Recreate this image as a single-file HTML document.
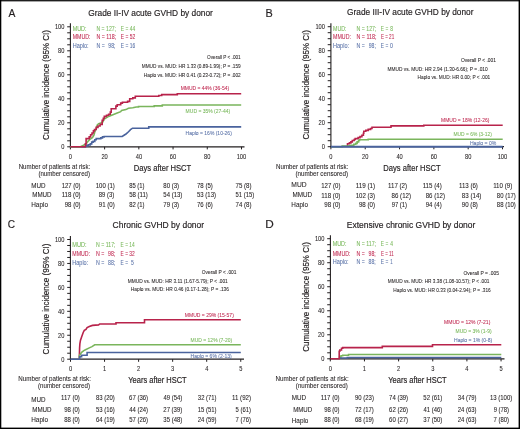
<!DOCTYPE html>
<html><head><meta charset="utf-8"><style>
html,body{margin:0;padding:0;background:#fff;}
body{width:520px;height:429px;overflow:hidden;position:relative;}
svg{position:absolute;left:0;top:0;display:block;will-change:transform;}
text{font-family:"Liberation Sans",sans-serif;white-space:pre;}
</style></head><body>
<svg width="520" height="429" viewBox="0 0 520 429">
<rect x="0" y="0" width="520" height="429" fill="#fff"/>
<rect x="0" y="0" width="520" height="1.4" fill="#1e1e1e"/>
<rect x="0" y="0" width="1.3" height="429" fill="#000"/>
<rect x="518.6" y="0" width="1.4" height="429" fill="#000"/>
<rect x="0" y="427.6" width="520" height="1.4" fill="#000"/>
<text x="8.45" y="17.00" font-size="11.6" fill="#231f20" stroke="#231f20" stroke-width="0.18" textLength="6.87" lengthAdjust="spacingAndGlyphs">A</text>
<text x="88.28" y="16.30" font-size="9.6" fill="#231f20" stroke="#231f20" stroke-width="0.18" textLength="124.55" lengthAdjust="spacingAndGlyphs">Grade II-IV acute GVHD by donor</text>
<text transform="translate(49.40,139.90) rotate(-90)" x="0" y="0" font-size="8.9" fill="#231f20" stroke="#231f20" stroke-width="0.18" textLength="109.81" lengthAdjust="spacingAndGlyphs">Cumulative incidence (95% CI)</text>
<line x1="70.40" y1="23.30" x2="70.40" y2="147.40" stroke="#231f20" stroke-width="1.1"/>
<line x1="67.20" y1="146.80" x2="70.40" y2="146.80" stroke="#231f20" stroke-width="1.0"/>
<line x1="67.20" y1="140.80" x2="70.40" y2="140.80" stroke="#231f20" stroke-width="1.0"/>
<line x1="67.20" y1="134.80" x2="70.40" y2="134.80" stroke="#231f20" stroke-width="1.0"/>
<line x1="67.20" y1="128.80" x2="70.40" y2="128.80" stroke="#231f20" stroke-width="1.0"/>
<line x1="67.20" y1="122.80" x2="70.40" y2="122.80" stroke="#231f20" stroke-width="1.0"/>
<line x1="67.20" y1="116.80" x2="70.40" y2="116.80" stroke="#231f20" stroke-width="1.0"/>
<line x1="67.20" y1="110.80" x2="70.40" y2="110.80" stroke="#231f20" stroke-width="1.0"/>
<line x1="67.20" y1="104.80" x2="70.40" y2="104.80" stroke="#231f20" stroke-width="1.0"/>
<line x1="67.20" y1="98.80" x2="70.40" y2="98.80" stroke="#231f20" stroke-width="1.0"/>
<line x1="67.20" y1="92.80" x2="70.40" y2="92.80" stroke="#231f20" stroke-width="1.0"/>
<line x1="67.20" y1="86.80" x2="70.40" y2="86.80" stroke="#231f20" stroke-width="1.0"/>
<line x1="67.20" y1="80.80" x2="70.40" y2="80.80" stroke="#231f20" stroke-width="1.0"/>
<line x1="67.20" y1="74.80" x2="70.40" y2="74.80" stroke="#231f20" stroke-width="1.0"/>
<line x1="67.20" y1="68.80" x2="70.40" y2="68.80" stroke="#231f20" stroke-width="1.0"/>
<line x1="67.20" y1="62.80" x2="70.40" y2="62.80" stroke="#231f20" stroke-width="1.0"/>
<line x1="67.20" y1="56.80" x2="70.40" y2="56.80" stroke="#231f20" stroke-width="1.0"/>
<line x1="67.20" y1="50.80" x2="70.40" y2="50.80" stroke="#231f20" stroke-width="1.0"/>
<line x1="67.20" y1="44.80" x2="70.40" y2="44.80" stroke="#231f20" stroke-width="1.0"/>
<line x1="67.20" y1="38.80" x2="70.40" y2="38.80" stroke="#231f20" stroke-width="1.0"/>
<line x1="67.20" y1="32.80" x2="70.40" y2="32.80" stroke="#231f20" stroke-width="1.0"/>
<line x1="67.20" y1="26.80" x2="70.40" y2="26.80" stroke="#231f20" stroke-width="1.0"/>
<text x="61.23" y="149.30" font-size="6.8" fill="#231f20" stroke="#231f20" stroke-width="0.07" textLength="3.18" lengthAdjust="spacingAndGlyphs">0</text>
<text x="58.06" y="125.30" font-size="6.8" fill="#231f20" stroke="#231f20" stroke-width="0.07" textLength="6.35" lengthAdjust="spacingAndGlyphs">20</text>
<text x="58.06" y="101.30" font-size="6.8" fill="#231f20" stroke="#231f20" stroke-width="0.07" textLength="6.35" lengthAdjust="spacingAndGlyphs">40</text>
<text x="58.06" y="77.30" font-size="6.8" fill="#231f20" stroke="#231f20" stroke-width="0.07" textLength="6.35" lengthAdjust="spacingAndGlyphs">60</text>
<text x="58.06" y="53.30" font-size="6.8" fill="#231f20" stroke="#231f20" stroke-width="0.07" textLength="6.35" lengthAdjust="spacingAndGlyphs">80</text>
<text x="54.89" y="29.30" font-size="6.8" fill="#231f20" stroke="#231f20" stroke-width="0.07" textLength="9.53" lengthAdjust="spacingAndGlyphs">100</text>
<line x1="69.90" y1="146.80" x2="244.50" y2="146.80" stroke="#231f20" stroke-width="1.3"/>
<line x1="70.40" y1="146.80" x2="70.40" y2="149.40" stroke="#231f20" stroke-width="1.0"/>
<text x="68.80" y="158.70" font-size="6.8" fill="#231f20" stroke="#231f20" stroke-width="0.07" textLength="3.18" lengthAdjust="spacingAndGlyphs">0</text>
<line x1="104.62" y1="146.80" x2="104.62" y2="149.40" stroke="#231f20" stroke-width="1.0"/>
<text x="101.41" y="158.70" font-size="6.8" fill="#231f20" stroke="#231f20" stroke-width="0.07" textLength="6.35" lengthAdjust="spacingAndGlyphs">20</text>
<line x1="138.84" y1="146.80" x2="138.84" y2="149.40" stroke="#231f20" stroke-width="1.0"/>
<text x="135.71" y="158.70" font-size="6.8" fill="#231f20" stroke="#231f20" stroke-width="0.07" textLength="6.35" lengthAdjust="spacingAndGlyphs">40</text>
<line x1="173.06" y1="146.80" x2="173.06" y2="149.40" stroke="#231f20" stroke-width="1.0"/>
<text x="169.85" y="158.70" font-size="6.8" fill="#231f20" stroke="#231f20" stroke-width="0.07" textLength="6.35" lengthAdjust="spacingAndGlyphs">60</text>
<line x1="207.28" y1="146.80" x2="207.28" y2="149.40" stroke="#231f20" stroke-width="1.0"/>
<text x="204.08" y="158.70" font-size="6.8" fill="#231f20" stroke="#231f20" stroke-width="0.07" textLength="6.35" lengthAdjust="spacingAndGlyphs">80</text>
<line x1="241.50" y1="146.80" x2="241.50" y2="149.40" stroke="#231f20" stroke-width="1.0"/>
<text x="236.63" y="158.70" font-size="6.8" fill="#231f20" stroke="#231f20" stroke-width="0.07" textLength="9.53" lengthAdjust="spacingAndGlyphs">100</text>
<text x="133.79" y="170.60" font-size="9.0" fill="#231f20" stroke="#231f20" stroke-width="0.18" textLength="57.48" lengthAdjust="spacingAndGlyphs">Days after HSCT</text>
<text x="72.67" y="30.85" font-size="6.3" fill="#78b85a" stroke="#78b85a" stroke-width="0.07" textLength="13.85" lengthAdjust="spacingAndGlyphs">MUD:</text>
<text x="96.49" y="30.85" font-size="6.3" fill="#78b85a" stroke="#78b85a" stroke-width="0.07" textLength="19.56" lengthAdjust="spacingAndGlyphs">N = 127;</text>
<text x="120.86" y="30.85" font-size="6.3" fill="#78b85a" stroke="#78b85a" stroke-width="0.07" textLength="14.28" lengthAdjust="spacingAndGlyphs">E = 44</text>
<text x="72.68" y="39.20" font-size="6.3" fill="#c02a52" stroke="#c02a52" stroke-width="0.07" textLength="17.81" lengthAdjust="spacingAndGlyphs">MMUD:</text>
<text x="96.48" y="39.20" font-size="6.3" fill="#c02a52" stroke="#c02a52" stroke-width="0.07" textLength="19.59" lengthAdjust="spacingAndGlyphs">N = 118;</text>
<text x="120.86" y="39.20" font-size="6.3" fill="#c02a52" stroke="#c02a52" stroke-width="0.07" textLength="14.39" lengthAdjust="spacingAndGlyphs">E = 52</text>
<text x="72.66" y="48.35" font-size="6.3" fill="#5a72a8" stroke="#5a72a8" stroke-width="0.07" textLength="15.94" lengthAdjust="spacingAndGlyphs">Haplo:</text>
<text x="96.48" y="48.35" font-size="6.3" fill="#5a72a8" stroke="#5a72a8" stroke-width="0.07" textLength="8.27" lengthAdjust="spacingAndGlyphs">N =</text>
<text x="108.27" y="48.35" font-size="6.3" fill="#5a72a8" stroke="#5a72a8" stroke-width="0.07" textLength="7.20" lengthAdjust="spacingAndGlyphs">98;</text>
<text x="120.86" y="48.35" font-size="6.3" fill="#5a72a8" stroke="#5a72a8" stroke-width="0.07" textLength="14.33" lengthAdjust="spacingAndGlyphs">E = 16</text>
<text x="207.09" y="59.05" font-size="5.6" fill="#231f20" stroke="#231f20" stroke-width="0.07" textLength="33.62" lengthAdjust="spacingAndGlyphs">Overall P &lt; .001</text>
<text x="141.72" y="67.65" font-size="5.6" fill="#231f20" stroke="#231f20" stroke-width="0.07" textLength="98.99" lengthAdjust="spacingAndGlyphs">MMUD vs. MUD: HR 1.33 (0.89-1.99); P = .159</text>
<text x="143.82" y="76.75" font-size="5.6" fill="#231f20" stroke="#231f20" stroke-width="0.07" textLength="96.93" lengthAdjust="spacingAndGlyphs">Haplo vs. MUD: HR 0.41 (0.23-0.72); P = .002</text>
<path d="M70.4 146.8 H85.4 V146.3 H86.8 V145.6 H88.2 V144.9 H90.3 V143.9 H91.7 V142.1 H93.1 V141.4 H94.8 V139.7 H96.2 V138.6 H100.8 V137.9 H102.5 V136.9 H104.2 V136.5 H122.2 L124.4 135 L126 134 L127.5 132.7 L129 131.2 L130.5 129.7 L132.5 128.2 H148.75 V126.9 H241.2" fill="none" stroke="#4a639d" stroke-width="1.6" stroke-linejoin="miter" stroke-linecap="butt"/>
<path d="M70.40 146.80 L80.50 146.80 L81.50 146.20 L83.00 145.60 L84.00 144.90 L86.10 143.90 L88.20 141.10 L90.30 139.00 L92.40 137.60 L93.80 135.50 L94.50 133.00 L95.20 130.60 L96.20 128.50 L97.30 125.00 L98.70 123.60 L100.80 122.90 L102.90 121.80 L104.30 119.00 L108.60 116.40 L112.90 114.70 L117.20 113.00 L120.70 111.70 L121.60 110.40 L125.90 109.60 L128.40 108.30 L132.80 107.80 L136.20 107.00 H138.5 V106.5 H154.2 V105.9 H162.3 V105.05 H241.2" fill="none" stroke="#7ab55c" stroke-width="1.6" stroke-linejoin="miter" stroke-linecap="butt"/>
<path d="M70.4 146.8 H85.4 V143.9 H86.1 V138.6 H89.2 V136.9 H90.6 V134.8 H92 V133 H93.4 V130.9 H94.5 V129.5 H96.2 V127.4 H98 V126 H100.1 V124.4 H102.2 V120.3 H103.3 V118.3 H104.3 V116.4 H106.5 V115.3 H108.6 V114.3 H110.3 V112.1 H111.2 V108.7 H115.9 V106.1 H117.2 V104.8 H120.7 V103.1 H122.4 V102.2 H127.6 V101.4 H129.7 V98.8 H132.8 V97.9 H135.3 V96.2 H158.8 V95.5 H161.7 V94.6 H177.3 V93.7 H241.2" fill="none" stroke="#b8234b" stroke-width="1.6" stroke-linejoin="miter" stroke-linecap="butt"/>
<text x="180.70" y="89.95" font-size="5.5" fill="#c02a52" stroke="#c02a52" stroke-width="0.07" textLength="48.41" lengthAdjust="spacingAndGlyphs">MMUD = 44% (36-54)</text>
<text x="185.60" y="112.55" font-size="5.5" fill="#78b85a" stroke="#78b85a" stroke-width="0.07" textLength="44.63" lengthAdjust="spacingAndGlyphs">MUD = 35% (27-44)</text>
<text x="185.60" y="134.95" font-size="5.5" fill="#5a72a8" stroke="#5a72a8" stroke-width="0.07" textLength="46.20" lengthAdjust="spacingAndGlyphs">Haplo = 16% (10-26)</text>
<text x="18.71" y="168.70" font-size="6.3" fill="#231f20" stroke="#231f20" stroke-width="0.07" textLength="71.45" lengthAdjust="spacingAndGlyphs">Number of patients at risk:</text>
<text x="38.43" y="175.90" font-size="6.3" fill="#231f20" stroke="#231f20" stroke-width="0.07" textLength="51.55" lengthAdjust="spacingAndGlyphs">(number censored)</text>
<text x="31.20" y="187.60" font-size="6.3" fill="#231f20" stroke="#231f20" stroke-width="0.07" textLength="14.30" lengthAdjust="spacingAndGlyphs">MUD</text>
<text x="32.20" y="197.20" font-size="6.3" fill="#231f20" stroke="#231f20" stroke-width="0.07" textLength="19.38" lengthAdjust="spacingAndGlyphs">MMUD</text>
<text x="31.19" y="206.80" font-size="6.3" fill="#231f20" stroke="#231f20" stroke-width="0.07" textLength="16.79" lengthAdjust="spacingAndGlyphs">Haplo</text>
<text x="61.65" y="187.50" font-size="6.3" fill="#231f20" stroke="#231f20" stroke-width="0.07" textLength="18.93" lengthAdjust="spacingAndGlyphs">127 (0)</text>
<text x="95.75" y="187.50" font-size="6.3" fill="#231f20" stroke="#231f20" stroke-width="0.07" textLength="19.03" lengthAdjust="spacingAndGlyphs">100 (1)</text>
<text x="129.13" y="187.50" font-size="6.3" fill="#231f20" stroke="#231f20" stroke-width="0.07" textLength="15.43" lengthAdjust="spacingAndGlyphs">85 (1)</text>
<text x="163.33" y="187.50" font-size="6.3" fill="#231f20" stroke="#231f20" stroke-width="0.07" textLength="15.75" lengthAdjust="spacingAndGlyphs">80 (3)</text>
<text x="197.00" y="187.50" font-size="6.3" fill="#231f20" stroke="#231f20" stroke-width="0.07" textLength="15.78" lengthAdjust="spacingAndGlyphs">78 (5)</text>
<text x="235.49" y="187.50" font-size="6.3" fill="#231f20" stroke="#231f20" stroke-width="0.07" textLength="15.99" lengthAdjust="spacingAndGlyphs">75 (8)</text>
<text x="61.64" y="197.10" font-size="6.3" fill="#231f20" stroke="#231f20" stroke-width="0.07" textLength="18.95" lengthAdjust="spacingAndGlyphs">118 (0)</text>
<text x="98.73" y="197.10" font-size="6.3" fill="#231f20" stroke="#231f20" stroke-width="0.07" textLength="15.43" lengthAdjust="spacingAndGlyphs">89 (3)</text>
<text x="129.16" y="197.10" font-size="6.3" fill="#231f20" stroke="#231f20" stroke-width="0.07" textLength="18.73" lengthAdjust="spacingAndGlyphs">58 (11)</text>
<text x="163.36" y="197.10" font-size="6.3" fill="#231f20" stroke="#231f20" stroke-width="0.07" textLength="18.92" lengthAdjust="spacingAndGlyphs">54 (13)</text>
<text x="197.06" y="197.10" font-size="6.3" fill="#231f20" stroke="#231f20" stroke-width="0.07" textLength="18.92" lengthAdjust="spacingAndGlyphs">53 (13)</text>
<text x="235.57" y="197.10" font-size="6.3" fill="#231f20" stroke="#231f20" stroke-width="0.07" textLength="18.61" lengthAdjust="spacingAndGlyphs">51 (15)</text>
<text x="64.73" y="206.70" font-size="6.3" fill="#231f20" stroke="#231f20" stroke-width="0.07" textLength="15.85" lengthAdjust="spacingAndGlyphs">98 (0)</text>
<text x="98.72" y="206.70" font-size="6.3" fill="#231f20" stroke="#231f20" stroke-width="0.07" textLength="16.06" lengthAdjust="spacingAndGlyphs">91 (0)</text>
<text x="129.13" y="206.70" font-size="6.3" fill="#231f20" stroke="#231f20" stroke-width="0.07" textLength="15.43" lengthAdjust="spacingAndGlyphs">82 (1)</text>
<text x="163.30" y="206.70" font-size="6.3" fill="#231f20" stroke="#231f20" stroke-width="0.07" textLength="15.78" lengthAdjust="spacingAndGlyphs">79 (3)</text>
<text x="197.00" y="206.70" font-size="6.3" fill="#231f20" stroke="#231f20" stroke-width="0.07" textLength="15.78" lengthAdjust="spacingAndGlyphs">76 (6)</text>
<text x="235.49" y="206.70" font-size="6.3" fill="#231f20" stroke="#231f20" stroke-width="0.07" textLength="15.99" lengthAdjust="spacingAndGlyphs">74 (8)</text>
<text x="265.53" y="17.10" font-size="11.6" fill="#231f20" stroke="#231f20" stroke-width="0.18" textLength="7.23" lengthAdjust="spacingAndGlyphs">B</text>
<text x="347.09" y="15.00" font-size="9.6" fill="#231f20" stroke="#231f20" stroke-width="0.18" textLength="126.37" lengthAdjust="spacingAndGlyphs">Grade III-IV acute GVHD by donor</text>
<text transform="translate(309.00,139.60) rotate(-90)" x="0" y="0" font-size="8.9" fill="#231f20" stroke="#231f20" stroke-width="0.18" textLength="109.50" lengthAdjust="spacingAndGlyphs">Cumulative incidence (95% CI)</text>
<line x1="330.90" y1="23.30" x2="330.90" y2="147.30" stroke="#231f20" stroke-width="1.1"/>
<line x1="327.70" y1="146.70" x2="330.90" y2="146.70" stroke="#231f20" stroke-width="1.0"/>
<line x1="327.70" y1="140.70" x2="330.90" y2="140.70" stroke="#231f20" stroke-width="1.0"/>
<line x1="327.70" y1="134.70" x2="330.90" y2="134.70" stroke="#231f20" stroke-width="1.0"/>
<line x1="327.70" y1="128.70" x2="330.90" y2="128.70" stroke="#231f20" stroke-width="1.0"/>
<line x1="327.70" y1="122.70" x2="330.90" y2="122.70" stroke="#231f20" stroke-width="1.0"/>
<line x1="327.70" y1="116.70" x2="330.90" y2="116.70" stroke="#231f20" stroke-width="1.0"/>
<line x1="327.70" y1="110.70" x2="330.90" y2="110.70" stroke="#231f20" stroke-width="1.0"/>
<line x1="327.70" y1="104.70" x2="330.90" y2="104.70" stroke="#231f20" stroke-width="1.0"/>
<line x1="327.70" y1="98.70" x2="330.90" y2="98.70" stroke="#231f20" stroke-width="1.0"/>
<line x1="327.70" y1="92.70" x2="330.90" y2="92.70" stroke="#231f20" stroke-width="1.0"/>
<line x1="327.70" y1="86.70" x2="330.90" y2="86.70" stroke="#231f20" stroke-width="1.0"/>
<line x1="327.70" y1="80.70" x2="330.90" y2="80.70" stroke="#231f20" stroke-width="1.0"/>
<line x1="327.70" y1="74.70" x2="330.90" y2="74.70" stroke="#231f20" stroke-width="1.0"/>
<line x1="327.70" y1="68.70" x2="330.90" y2="68.70" stroke="#231f20" stroke-width="1.0"/>
<line x1="327.70" y1="62.70" x2="330.90" y2="62.70" stroke="#231f20" stroke-width="1.0"/>
<line x1="327.70" y1="56.70" x2="330.90" y2="56.70" stroke="#231f20" stroke-width="1.0"/>
<line x1="327.70" y1="50.70" x2="330.90" y2="50.70" stroke="#231f20" stroke-width="1.0"/>
<line x1="327.70" y1="44.70" x2="330.90" y2="44.70" stroke="#231f20" stroke-width="1.0"/>
<line x1="327.70" y1="38.70" x2="330.90" y2="38.70" stroke="#231f20" stroke-width="1.0"/>
<line x1="327.70" y1="32.70" x2="330.90" y2="32.70" stroke="#231f20" stroke-width="1.0"/>
<line x1="327.70" y1="26.70" x2="330.90" y2="26.70" stroke="#231f20" stroke-width="1.0"/>
<text x="321.73" y="149.20" font-size="6.8" fill="#231f20" stroke="#231f20" stroke-width="0.07" textLength="3.18" lengthAdjust="spacingAndGlyphs">0</text>
<text x="318.56" y="125.20" font-size="6.8" fill="#231f20" stroke="#231f20" stroke-width="0.07" textLength="6.35" lengthAdjust="spacingAndGlyphs">20</text>
<text x="318.56" y="101.20" font-size="6.8" fill="#231f20" stroke="#231f20" stroke-width="0.07" textLength="6.35" lengthAdjust="spacingAndGlyphs">40</text>
<text x="318.56" y="77.20" font-size="6.8" fill="#231f20" stroke="#231f20" stroke-width="0.07" textLength="6.35" lengthAdjust="spacingAndGlyphs">60</text>
<text x="318.56" y="53.20" font-size="6.8" fill="#231f20" stroke="#231f20" stroke-width="0.07" textLength="6.35" lengthAdjust="spacingAndGlyphs">80</text>
<text x="315.39" y="29.20" font-size="6.8" fill="#231f20" stroke="#231f20" stroke-width="0.07" textLength="9.53" lengthAdjust="spacingAndGlyphs">100</text>
<line x1="330.40" y1="146.70" x2="504.00" y2="146.70" stroke="#231f20" stroke-width="1.3"/>
<line x1="330.90" y1="146.70" x2="330.90" y2="149.30" stroke="#231f20" stroke-width="1.0"/>
<text x="329.30" y="158.60" font-size="6.8" fill="#231f20" stroke="#231f20" stroke-width="0.07" textLength="3.18" lengthAdjust="spacingAndGlyphs">0</text>
<line x1="365.22" y1="146.70" x2="365.22" y2="149.30" stroke="#231f20" stroke-width="1.0"/>
<text x="362.01" y="158.60" font-size="6.8" fill="#231f20" stroke="#231f20" stroke-width="0.07" textLength="6.35" lengthAdjust="spacingAndGlyphs">20</text>
<line x1="399.54" y1="146.70" x2="399.54" y2="149.30" stroke="#231f20" stroke-width="1.0"/>
<text x="396.41" y="158.60" font-size="6.8" fill="#231f20" stroke="#231f20" stroke-width="0.07" textLength="6.35" lengthAdjust="spacingAndGlyphs">40</text>
<line x1="433.86" y1="146.70" x2="433.86" y2="149.30" stroke="#231f20" stroke-width="1.0"/>
<text x="430.65" y="158.60" font-size="6.8" fill="#231f20" stroke="#231f20" stroke-width="0.07" textLength="6.35" lengthAdjust="spacingAndGlyphs">60</text>
<line x1="468.18" y1="146.70" x2="468.18" y2="149.30" stroke="#231f20" stroke-width="1.0"/>
<text x="464.98" y="158.60" font-size="6.8" fill="#231f20" stroke="#231f20" stroke-width="0.07" textLength="6.35" lengthAdjust="spacingAndGlyphs">80</text>
<line x1="502.50" y1="146.70" x2="502.50" y2="149.30" stroke="#231f20" stroke-width="1.0"/>
<text x="497.63" y="158.60" font-size="6.8" fill="#231f20" stroke="#231f20" stroke-width="0.07" textLength="9.53" lengthAdjust="spacingAndGlyphs">100</text>
<text x="383.29" y="171.20" font-size="9.0" fill="#231f20" stroke="#231f20" stroke-width="0.18" textLength="57.48" lengthAdjust="spacingAndGlyphs">Days after HSCT</text>
<text x="333.08" y="30.50" font-size="6.3" fill="#78b85a" stroke="#78b85a" stroke-width="0.07" textLength="13.42" lengthAdjust="spacingAndGlyphs">MUD:</text>
<text x="356.48" y="30.50" font-size="6.3" fill="#78b85a" stroke="#78b85a" stroke-width="0.07" textLength="19.98" lengthAdjust="spacingAndGlyphs">N = 127;</text>
<text x="380.86" y="30.50" font-size="6.3" fill="#78b85a" stroke="#78b85a" stroke-width="0.07" textLength="7.37" lengthAdjust="spacingAndGlyphs">E =</text>
<text x="390.28" y="30.50" font-size="6.3" fill="#78b85a" stroke="#78b85a" stroke-width="0.07" textLength="2.72" lengthAdjust="spacingAndGlyphs">8</text>
<text x="333.08" y="39.00" font-size="6.3" fill="#c02a52" stroke="#c02a52" stroke-width="0.07" textLength="17.81" lengthAdjust="spacingAndGlyphs">MMUD:</text>
<text x="356.47" y="39.00" font-size="6.3" fill="#c02a52" stroke="#c02a52" stroke-width="0.07" textLength="20.00" lengthAdjust="spacingAndGlyphs">N = 118;</text>
<text x="380.89" y="39.00" font-size="6.3" fill="#c02a52" stroke="#c02a52" stroke-width="0.07" textLength="13.32" lengthAdjust="spacingAndGlyphs">E = 21</text>
<text x="333.06" y="48.35" font-size="6.3" fill="#5a72a8" stroke="#5a72a8" stroke-width="0.07" textLength="15.94" lengthAdjust="spacingAndGlyphs">Haplo:</text>
<text x="356.48" y="48.35" font-size="6.3" fill="#5a72a8" stroke="#5a72a8" stroke-width="0.07" textLength="8.27" lengthAdjust="spacingAndGlyphs">N =</text>
<text x="368.77" y="48.35" font-size="6.3" fill="#5a72a8" stroke="#5a72a8" stroke-width="0.07" textLength="7.09" lengthAdjust="spacingAndGlyphs">98;</text>
<text x="380.86" y="48.35" font-size="6.3" fill="#5a72a8" stroke="#5a72a8" stroke-width="0.07" textLength="7.37" lengthAdjust="spacingAndGlyphs">E =</text>
<text x="390.09" y="48.35" font-size="6.3" fill="#5a72a8" stroke="#5a72a8" stroke-width="0.07" textLength="2.90" lengthAdjust="spacingAndGlyphs">0</text>
<text x="461.03" y="61.75" font-size="5.6" fill="#231f20" stroke="#231f20" stroke-width="0.07" textLength="34.94" lengthAdjust="spacingAndGlyphs">Overall P &lt; .001</text>
<text x="387.62" y="70.50" font-size="5.6" fill="#231f20" stroke="#231f20" stroke-width="0.07" textLength="100.05" lengthAdjust="spacingAndGlyphs">MMUD vs. MUD: HR 2.94 (1.30-6.66); P = .010</text>
<text x="417.62" y="78.75" font-size="5.6" fill="#231f20" stroke="#231f20" stroke-width="0.07" textLength="72.61" lengthAdjust="spacingAndGlyphs">Haplo vs. MUD: HR 0.00; P &lt; .001</text>
<path d="M347.50 146.70 H347.50 V143.80 H349.40 V142.90 H350.90 V141.90 H352.30 V140.50 H354.20 V139.50 H355.20 V138.60 H358.10 V137.60 H360.00 V136.60 H361.90 V135.20 H363.40 V133.30 H363.80 V131.30 H365.80 V130.40 H368.20 V129.40 H370.60 V128.50 H372.00 V127.20 H391.00 V125.90 H423.80 V125.20 H502.70 V125.20" fill="none" stroke="#b8234b" stroke-width="1.6" stroke-linejoin="miter" stroke-linecap="butt"/>
<path d="M331.00 146.70 H342.20 V146.00 H349.40 V145.60 H351.30 V145.30 H353.80 V144.30 H355.70 V143.40 H357.10 V141.90 H358.60 V140.50 H359.50 V139.80 H368.20 V139.30 H502.70 V139.30" fill="none" stroke="#7ab55c" stroke-width="1.6" stroke-linejoin="miter" stroke-linecap="butt"/>
<path d="M330.9 146.7 H502.7" fill="none" stroke="#4a639d" stroke-width="1.9" stroke-linejoin="miter" stroke-linecap="butt"/>
<text x="441.10" y="121.65" font-size="5.5" fill="#c02a52" stroke="#c02a52" stroke-width="0.07" textLength="48.31" lengthAdjust="spacingAndGlyphs">MMUD = 18% (12-26)</text>
<text x="453.41" y="136.05" font-size="5.5" fill="#78b85a" stroke="#78b85a" stroke-width="0.07" textLength="38.40" lengthAdjust="spacingAndGlyphs">MUD = 6% (3-12)</text>
<text x="469.89" y="145.45" font-size="5.5" fill="#5a72a8" stroke="#5a72a8" stroke-width="0.07" textLength="26.47" lengthAdjust="spacingAndGlyphs">Haplo = 0%</text>
<text x="276.00" y="168.80" font-size="6.3" fill="#231f20" stroke="#231f20" stroke-width="0.07" textLength="72.26" lengthAdjust="spacingAndGlyphs">Number of patients at risk:</text>
<text x="295.43" y="176.10" font-size="6.3" fill="#231f20" stroke="#231f20" stroke-width="0.07" textLength="52.67" lengthAdjust="spacingAndGlyphs">(number censored)</text>
<text x="291.36" y="187.30" font-size="6.3" fill="#231f20" stroke="#231f20" stroke-width="0.07" textLength="15.25" lengthAdjust="spacingAndGlyphs">MUD</text>
<text x="292.40" y="197.30" font-size="6.3" fill="#231f20" stroke="#231f20" stroke-width="0.07" textLength="19.59" lengthAdjust="spacingAndGlyphs">MMUD</text>
<text x="291.39" y="207.30" font-size="6.3" fill="#231f20" stroke="#231f20" stroke-width="0.07" textLength="16.58" lengthAdjust="spacingAndGlyphs">Haplo</text>
<text x="321.25" y="187.50" font-size="6.3" fill="#231f20" stroke="#231f20" stroke-width="0.07" textLength="19.14" lengthAdjust="spacingAndGlyphs">127 (0)</text>
<text x="355.73" y="187.50" font-size="6.3" fill="#231f20" stroke="#231f20" stroke-width="0.07" textLength="19.27" lengthAdjust="spacingAndGlyphs">119 (1)</text>
<text x="388.04" y="187.50" font-size="6.3" fill="#231f20" stroke="#231f20" stroke-width="0.07" textLength="19.06" lengthAdjust="spacingAndGlyphs">117 (2)</text>
<text x="422.64" y="187.50" font-size="6.3" fill="#231f20" stroke="#231f20" stroke-width="0.07" textLength="19.06" lengthAdjust="spacingAndGlyphs">115 (4)</text>
<text x="458.94" y="187.50" font-size="6.3" fill="#231f20" stroke="#231f20" stroke-width="0.07" textLength="18.95" lengthAdjust="spacingAndGlyphs">113 (6)</text>
<text x="493.14" y="187.50" font-size="6.3" fill="#231f20" stroke="#231f20" stroke-width="0.07" textLength="19.16" lengthAdjust="spacingAndGlyphs">110 (9)</text>
<text x="321.24" y="197.50" font-size="6.3" fill="#231f20" stroke="#231f20" stroke-width="0.07" textLength="19.16" lengthAdjust="spacingAndGlyphs">118 (0)</text>
<text x="355.74" y="197.50" font-size="6.3" fill="#231f20" stroke="#231f20" stroke-width="0.07" textLength="19.24" lengthAdjust="spacingAndGlyphs">102 (3)</text>
<text x="391.62" y="197.50" font-size="6.3" fill="#231f20" stroke="#231f20" stroke-width="0.07" textLength="19.36" lengthAdjust="spacingAndGlyphs">86 (12)</text>
<text x="425.73" y="197.50" font-size="6.3" fill="#231f20" stroke="#231f20" stroke-width="0.07" textLength="19.26" lengthAdjust="spacingAndGlyphs">86 (12)</text>
<text x="461.82" y="197.50" font-size="6.3" fill="#231f20" stroke="#231f20" stroke-width="0.07" textLength="19.57" lengthAdjust="spacingAndGlyphs">83 (14)</text>
<text x="496.83" y="197.50" font-size="6.3" fill="#231f20" stroke="#231f20" stroke-width="0.07" textLength="18.95" lengthAdjust="spacingAndGlyphs">80 (17)</text>
<text x="324.32" y="207.10" font-size="6.3" fill="#231f20" stroke="#231f20" stroke-width="0.07" textLength="16.06" lengthAdjust="spacingAndGlyphs">98 (0)</text>
<text x="358.92" y="207.10" font-size="6.3" fill="#231f20" stroke="#231f20" stroke-width="0.07" textLength="16.06" lengthAdjust="spacingAndGlyphs">98 (0)</text>
<text x="391.63" y="207.10" font-size="6.3" fill="#231f20" stroke="#231f20" stroke-width="0.07" textLength="15.43" lengthAdjust="spacingAndGlyphs">97 (1)</text>
<text x="425.73" y="207.10" font-size="6.3" fill="#231f20" stroke="#231f20" stroke-width="0.07" textLength="15.96" lengthAdjust="spacingAndGlyphs">94 (4)</text>
<text x="461.82" y="207.10" font-size="6.3" fill="#231f20" stroke="#231f20" stroke-width="0.07" textLength="16.06" lengthAdjust="spacingAndGlyphs">90 (8)</text>
<text x="496.83" y="207.10" font-size="6.3" fill="#231f20" stroke="#231f20" stroke-width="0.07" textLength="18.95" lengthAdjust="spacingAndGlyphs">88 (10)</text>
<text x="7.70" y="227.80" font-size="11.6" fill="#231f20" stroke="#231f20" stroke-width="0.18" textLength="7.28" lengthAdjust="spacingAndGlyphs">C</text>
<text x="112.58" y="228.20" font-size="9.6" fill="#231f20" stroke="#231f20" stroke-width="0.18" textLength="91.57" lengthAdjust="spacingAndGlyphs">Chronic GVHD by donor</text>
<text transform="translate(49.20,354.40) rotate(-90)" x="0" y="0" font-size="8.9" fill="#231f20" stroke="#231f20" stroke-width="0.18" textLength="110.82" lengthAdjust="spacingAndGlyphs">Cumulative incidence (95% CI)</text>
<line x1="70.40" y1="236.00" x2="70.40" y2="359.80" stroke="#231f20" stroke-width="1.1"/>
<line x1="67.20" y1="359.20" x2="70.40" y2="359.20" stroke="#231f20" stroke-width="1.0"/>
<line x1="67.20" y1="353.21" x2="70.40" y2="353.21" stroke="#231f20" stroke-width="1.0"/>
<line x1="67.20" y1="347.23" x2="70.40" y2="347.23" stroke="#231f20" stroke-width="1.0"/>
<line x1="67.20" y1="341.25" x2="70.40" y2="341.25" stroke="#231f20" stroke-width="1.0"/>
<line x1="67.20" y1="335.26" x2="70.40" y2="335.26" stroke="#231f20" stroke-width="1.0"/>
<line x1="67.20" y1="329.27" x2="70.40" y2="329.27" stroke="#231f20" stroke-width="1.0"/>
<line x1="67.20" y1="323.29" x2="70.40" y2="323.29" stroke="#231f20" stroke-width="1.0"/>
<line x1="67.20" y1="317.31" x2="70.40" y2="317.31" stroke="#231f20" stroke-width="1.0"/>
<line x1="67.20" y1="311.32" x2="70.40" y2="311.32" stroke="#231f20" stroke-width="1.0"/>
<line x1="67.20" y1="305.33" x2="70.40" y2="305.33" stroke="#231f20" stroke-width="1.0"/>
<line x1="67.20" y1="299.35" x2="70.40" y2="299.35" stroke="#231f20" stroke-width="1.0"/>
<line x1="67.20" y1="293.37" x2="70.40" y2="293.37" stroke="#231f20" stroke-width="1.0"/>
<line x1="67.20" y1="287.38" x2="70.40" y2="287.38" stroke="#231f20" stroke-width="1.0"/>
<line x1="67.20" y1="281.39" x2="70.40" y2="281.39" stroke="#231f20" stroke-width="1.0"/>
<line x1="67.20" y1="275.41" x2="70.40" y2="275.41" stroke="#231f20" stroke-width="1.0"/>
<line x1="67.20" y1="269.43" x2="70.40" y2="269.43" stroke="#231f20" stroke-width="1.0"/>
<line x1="67.20" y1="263.44" x2="70.40" y2="263.44" stroke="#231f20" stroke-width="1.0"/>
<line x1="67.20" y1="257.45" x2="70.40" y2="257.45" stroke="#231f20" stroke-width="1.0"/>
<line x1="67.20" y1="251.47" x2="70.40" y2="251.47" stroke="#231f20" stroke-width="1.0"/>
<line x1="67.20" y1="245.49" x2="70.40" y2="245.49" stroke="#231f20" stroke-width="1.0"/>
<line x1="67.20" y1="239.50" x2="70.40" y2="239.50" stroke="#231f20" stroke-width="1.0"/>
<text x="61.23" y="361.70" font-size="6.8" fill="#231f20" stroke="#231f20" stroke-width="0.07" textLength="3.18" lengthAdjust="spacingAndGlyphs">0</text>
<text x="58.06" y="337.76" font-size="6.8" fill="#231f20" stroke="#231f20" stroke-width="0.07" textLength="6.35" lengthAdjust="spacingAndGlyphs">20</text>
<text x="58.06" y="313.82" font-size="6.8" fill="#231f20" stroke="#231f20" stroke-width="0.07" textLength="6.35" lengthAdjust="spacingAndGlyphs">40</text>
<text x="58.06" y="289.88" font-size="6.8" fill="#231f20" stroke="#231f20" stroke-width="0.07" textLength="6.35" lengthAdjust="spacingAndGlyphs">60</text>
<text x="58.06" y="265.94" font-size="6.8" fill="#231f20" stroke="#231f20" stroke-width="0.07" textLength="6.35" lengthAdjust="spacingAndGlyphs">80</text>
<text x="54.89" y="242.00" font-size="6.8" fill="#231f20" stroke="#231f20" stroke-width="0.07" textLength="9.53" lengthAdjust="spacingAndGlyphs">100</text>
<line x1="69.90" y1="359.20" x2="244.00" y2="359.20" stroke="#231f20" stroke-width="1.3"/>
<line x1="70.50" y1="359.20" x2="70.50" y2="361.80" stroke="#231f20" stroke-width="1.0"/>
<text x="68.90" y="371.30" font-size="6.8" fill="#231f20" stroke="#231f20" stroke-width="0.07" textLength="3.18" lengthAdjust="spacingAndGlyphs">0</text>
<line x1="104.55" y1="359.20" x2="104.55" y2="361.80" stroke="#231f20" stroke-width="1.0"/>
<text x="102.88" y="371.30" font-size="6.8" fill="#231f20" stroke="#231f20" stroke-width="0.07" textLength="3.18" lengthAdjust="spacingAndGlyphs">1</text>
<line x1="138.60" y1="359.20" x2="138.60" y2="361.80" stroke="#231f20" stroke-width="1.0"/>
<text x="137.01" y="371.30" font-size="6.8" fill="#231f20" stroke="#231f20" stroke-width="0.07" textLength="3.18" lengthAdjust="spacingAndGlyphs">2</text>
<line x1="172.65" y1="359.20" x2="172.65" y2="361.80" stroke="#231f20" stroke-width="1.0"/>
<text x="171.06" y="371.30" font-size="6.8" fill="#231f20" stroke="#231f20" stroke-width="0.07" textLength="3.18" lengthAdjust="spacingAndGlyphs">3</text>
<line x1="206.70" y1="359.20" x2="206.70" y2="361.80" stroke="#231f20" stroke-width="1.0"/>
<text x="205.14" y="371.30" font-size="6.8" fill="#231f20" stroke="#231f20" stroke-width="0.07" textLength="3.18" lengthAdjust="spacingAndGlyphs">4</text>
<line x1="240.75" y1="359.20" x2="240.75" y2="361.80" stroke="#231f20" stroke-width="1.0"/>
<text x="239.16" y="371.30" font-size="6.8" fill="#231f20" stroke="#231f20" stroke-width="0.07" textLength="3.18" lengthAdjust="spacingAndGlyphs">5</text>
<text x="128.31" y="383.20" font-size="9.0" fill="#231f20" stroke="#231f20" stroke-width="0.18" textLength="58.33" lengthAdjust="spacingAndGlyphs">Years after HSCT</text>
<text x="72.30" y="246.95" font-size="6.3" fill="#78b85a" stroke="#78b85a" stroke-width="0.07" textLength="14.23" lengthAdjust="spacingAndGlyphs">MUD:</text>
<text x="96.08" y="246.95" font-size="6.3" fill="#78b85a" stroke="#78b85a" stroke-width="0.07" textLength="19.38" lengthAdjust="spacingAndGlyphs">N = 117;</text>
<text x="120.62" y="246.95" font-size="6.3" fill="#78b85a" stroke="#78b85a" stroke-width="0.07" textLength="14.02" lengthAdjust="spacingAndGlyphs">E = 14</text>
<text x="72.33" y="255.70" font-size="6.3" fill="#c02a52" stroke="#c02a52" stroke-width="0.07" textLength="17.76" lengthAdjust="spacingAndGlyphs">MMUD:</text>
<text x="96.08" y="255.70" font-size="6.3" fill="#c02a52" stroke="#c02a52" stroke-width="0.07" textLength="8.38" lengthAdjust="spacingAndGlyphs">N =</text>
<text x="108.07" y="255.70" font-size="6.3" fill="#c02a52" stroke="#c02a52" stroke-width="0.07" textLength="7.20" lengthAdjust="spacingAndGlyphs">98;</text>
<text x="120.61" y="255.70" font-size="6.3" fill="#c02a52" stroke="#c02a52" stroke-width="0.07" textLength="14.12" lengthAdjust="spacingAndGlyphs">E = 32</text>
<text x="72.31" y="264.70" font-size="6.3" fill="#5a72a8" stroke="#5a72a8" stroke-width="0.07" textLength="15.89" lengthAdjust="spacingAndGlyphs">Haplo:</text>
<text x="96.08" y="264.70" font-size="6.3" fill="#5a72a8" stroke="#5a72a8" stroke-width="0.07" textLength="8.38" lengthAdjust="spacingAndGlyphs">N =</text>
<text x="108.07" y="264.70" font-size="6.3" fill="#5a72a8" stroke="#5a72a8" stroke-width="0.07" textLength="7.20" lengthAdjust="spacingAndGlyphs">88;</text>
<text x="120.61" y="264.70" font-size="6.3" fill="#5a72a8" stroke="#5a72a8" stroke-width="0.07" textLength="7.43" lengthAdjust="spacingAndGlyphs">E =</text>
<text x="131.00" y="264.70" font-size="6.3" fill="#5a72a8" stroke="#5a72a8" stroke-width="0.07" textLength="2.81" lengthAdjust="spacingAndGlyphs">5</text>
<text x="201.78" y="274.25" font-size="5.6" fill="#231f20" stroke="#231f20" stroke-width="0.07" textLength="34.69" lengthAdjust="spacingAndGlyphs">Overall P &lt; .001</text>
<text x="127.87" y="282.50" font-size="5.6" fill="#231f20" stroke="#231f20" stroke-width="0.07" textLength="99.86" lengthAdjust="spacingAndGlyphs">MMUD vs. MUD: HR 3.11 (1.67-5.79); P &lt; .001</text>
<text x="130.87" y="291.25" font-size="5.6" fill="#231f20" stroke="#231f20" stroke-width="0.07" textLength="98.09" lengthAdjust="spacingAndGlyphs">Haplo vs. MUD: HR 0.46 (0.17-1.28); P = .136</text>
<path d="M79.40 359.20 L79.40 354.50 L79.60 347.90 L79.90 343.50 L80.50 340.20 L81.60 336.90 L83.20 332.50 L84.30 330.40 L86.00 329.30 L87.10 327.60 L89.30 326.50 L92.50 325.40 L98.60 324.90 L99.70 324.00 H116.0 V322.7 H144.5 V319.7 H240.8" fill="none" stroke="#b8234b" stroke-width="1.6" stroke-linejoin="miter" stroke-linecap="butt"/>
<path d="M79.40 359.20 L79.40 355.50 L81.60 352.30 L83.80 350.60 L86.00 349.50 L89.30 347.90 L92.00 346.60 L94.70 344.80 L240.80 344.80" fill="none" stroke="#7ab55c" stroke-width="1.6" stroke-linejoin="miter" stroke-linecap="butt"/>
<path d="M70.4 359.2 H79.6 V356.7 H81.6 V355.3 H87.1 V352.5 H240.8" fill="none" stroke="#4a639d" stroke-width="1.6" stroke-linejoin="miter" stroke-linecap="butt"/>
<text x="184.85" y="316.95" font-size="5.5" fill="#c02a52" stroke="#c02a52" stroke-width="0.07" textLength="48.97" lengthAdjust="spacingAndGlyphs">MMUD = 29% (15-57)</text>
<text x="190.60" y="342.35" font-size="5.5" fill="#78b85a" stroke="#78b85a" stroke-width="0.07" textLength="41.62" lengthAdjust="spacingAndGlyphs">MUD = 12% (7-20)</text>
<text x="190.59" y="357.60" font-size="5.5" fill="#5a72a8" stroke="#5a72a8" stroke-width="0.07" textLength="41.23" lengthAdjust="spacingAndGlyphs">Haplo = 6% (2-13)</text>
<text x="18.30" y="381.40" font-size="6.3" fill="#231f20" stroke="#231f20" stroke-width="0.07" textLength="72.57" lengthAdjust="spacingAndGlyphs">Number of patients at risk:</text>
<text x="38.03" y="387.90" font-size="6.3" fill="#231f20" stroke="#231f20" stroke-width="0.07" textLength="51.96" lengthAdjust="spacingAndGlyphs">(number censored)</text>
<text x="31.20" y="401.60" font-size="6.3" fill="#231f20" stroke="#231f20" stroke-width="0.07" textLength="14.30" lengthAdjust="spacingAndGlyphs">MUD</text>
<text x="32.20" y="411.90" font-size="6.3" fill="#231f20" stroke="#231f20" stroke-width="0.07" textLength="19.38" lengthAdjust="spacingAndGlyphs">MMUD</text>
<text x="31.19" y="421.90" font-size="6.3" fill="#231f20" stroke="#231f20" stroke-width="0.07" textLength="16.79" lengthAdjust="spacingAndGlyphs">Haplo</text>
<text x="61.05" y="400.30" font-size="6.3" fill="#231f20" stroke="#231f20" stroke-width="0.07" textLength="18.74" lengthAdjust="spacingAndGlyphs">117 (0)</text>
<text x="95.93" y="400.30" font-size="6.3" fill="#231f20" stroke="#231f20" stroke-width="0.07" textLength="18.85" lengthAdjust="spacingAndGlyphs">83 (20)</text>
<text x="129.10" y="400.30" font-size="6.3" fill="#231f20" stroke="#231f20" stroke-width="0.07" textLength="18.98" lengthAdjust="spacingAndGlyphs">67 (36)</text>
<text x="163.48" y="400.30" font-size="6.3" fill="#231f20" stroke="#231f20" stroke-width="0.07" textLength="18.80" lengthAdjust="spacingAndGlyphs">49 (54)</text>
<text x="197.87" y="400.30" font-size="6.3" fill="#231f20" stroke="#231f20" stroke-width="0.07" textLength="18.61" lengthAdjust="spacingAndGlyphs">32 (71)</text>
<text x="232.04" y="400.30" font-size="6.3" fill="#231f20" stroke="#231f20" stroke-width="0.07" textLength="18.95" lengthAdjust="spacingAndGlyphs">11 (92)</text>
<text x="64.13" y="412.00" font-size="6.3" fill="#231f20" stroke="#231f20" stroke-width="0.07" textLength="15.64" lengthAdjust="spacingAndGlyphs">98 (0)</text>
<text x="95.96" y="412.00" font-size="6.3" fill="#231f20" stroke="#231f20" stroke-width="0.07" textLength="18.82" lengthAdjust="spacingAndGlyphs">53 (16)</text>
<text x="129.28" y="412.00" font-size="6.3" fill="#231f20" stroke="#231f20" stroke-width="0.07" textLength="18.80" lengthAdjust="spacingAndGlyphs">44 (24)</text>
<text x="163.30" y="412.00" font-size="6.3" fill="#231f20" stroke="#231f20" stroke-width="0.07" textLength="18.98" lengthAdjust="spacingAndGlyphs">27 (39)</text>
<text x="197.65" y="412.00" font-size="6.3" fill="#231f20" stroke="#231f20" stroke-width="0.07" textLength="18.82" lengthAdjust="spacingAndGlyphs">15 (51)</text>
<text x="235.56" y="412.00" font-size="6.3" fill="#231f20" stroke="#231f20" stroke-width="0.07" textLength="15.40" lengthAdjust="spacingAndGlyphs">5 (61)</text>
<text x="64.13" y="421.70" font-size="6.3" fill="#231f20" stroke="#231f20" stroke-width="0.07" textLength="15.64" lengthAdjust="spacingAndGlyphs">88 (0)</text>
<text x="95.90" y="421.70" font-size="6.3" fill="#231f20" stroke="#231f20" stroke-width="0.07" textLength="18.88" lengthAdjust="spacingAndGlyphs">64 (19)</text>
<text x="129.16" y="421.70" font-size="6.3" fill="#231f20" stroke="#231f20" stroke-width="0.07" textLength="18.92" lengthAdjust="spacingAndGlyphs">57 (26)</text>
<text x="163.36" y="421.70" font-size="6.3" fill="#231f20" stroke="#231f20" stroke-width="0.07" textLength="18.92" lengthAdjust="spacingAndGlyphs">35 (48)</text>
<text x="197.81" y="421.70" font-size="6.3" fill="#231f20" stroke="#231f20" stroke-width="0.07" textLength="18.67" lengthAdjust="spacingAndGlyphs">24 (59)</text>
<text x="235.50" y="421.70" font-size="6.3" fill="#231f20" stroke="#231f20" stroke-width="0.07" textLength="15.47" lengthAdjust="spacingAndGlyphs">7 (76)</text>
<text x="265.36" y="227.90" font-size="11.6" fill="#231f20" stroke="#231f20" stroke-width="0.18" textLength="8.50" lengthAdjust="spacingAndGlyphs">D</text>
<text x="346.82" y="228.30" font-size="9.6" fill="#231f20" stroke="#231f20" stroke-width="0.18" textLength="128.54" lengthAdjust="spacingAndGlyphs">Extensive chronic GVHD by donor</text>
<text transform="translate(308.60,351.70) rotate(-90)" x="0" y="0" font-size="8.9" fill="#231f20" stroke="#231f20" stroke-width="0.18" textLength="109.50" lengthAdjust="spacingAndGlyphs">Cumulative incidence (95% CI)</text>
<line x1="330.40" y1="235.20" x2="330.40" y2="359.40" stroke="#231f20" stroke-width="1.1"/>
<line x1="327.20" y1="358.80" x2="330.40" y2="358.80" stroke="#231f20" stroke-width="1.0"/>
<line x1="327.20" y1="352.80" x2="330.40" y2="352.80" stroke="#231f20" stroke-width="1.0"/>
<line x1="327.20" y1="346.79" x2="330.40" y2="346.79" stroke="#231f20" stroke-width="1.0"/>
<line x1="327.20" y1="340.79" x2="330.40" y2="340.79" stroke="#231f20" stroke-width="1.0"/>
<line x1="327.20" y1="334.78" x2="330.40" y2="334.78" stroke="#231f20" stroke-width="1.0"/>
<line x1="327.20" y1="328.77" x2="330.40" y2="328.77" stroke="#231f20" stroke-width="1.0"/>
<line x1="327.20" y1="322.77" x2="330.40" y2="322.77" stroke="#231f20" stroke-width="1.0"/>
<line x1="327.20" y1="316.76" x2="330.40" y2="316.76" stroke="#231f20" stroke-width="1.0"/>
<line x1="327.20" y1="310.76" x2="330.40" y2="310.76" stroke="#231f20" stroke-width="1.0"/>
<line x1="327.20" y1="304.75" x2="330.40" y2="304.75" stroke="#231f20" stroke-width="1.0"/>
<line x1="327.20" y1="298.75" x2="330.40" y2="298.75" stroke="#231f20" stroke-width="1.0"/>
<line x1="327.20" y1="292.75" x2="330.40" y2="292.75" stroke="#231f20" stroke-width="1.0"/>
<line x1="327.20" y1="286.74" x2="330.40" y2="286.74" stroke="#231f20" stroke-width="1.0"/>
<line x1="327.20" y1="280.74" x2="330.40" y2="280.74" stroke="#231f20" stroke-width="1.0"/>
<line x1="327.20" y1="274.73" x2="330.40" y2="274.73" stroke="#231f20" stroke-width="1.0"/>
<line x1="327.20" y1="268.73" x2="330.40" y2="268.73" stroke="#231f20" stroke-width="1.0"/>
<line x1="327.20" y1="262.72" x2="330.40" y2="262.72" stroke="#231f20" stroke-width="1.0"/>
<line x1="327.20" y1="256.71" x2="330.40" y2="256.71" stroke="#231f20" stroke-width="1.0"/>
<line x1="327.20" y1="250.71" x2="330.40" y2="250.71" stroke="#231f20" stroke-width="1.0"/>
<line x1="327.20" y1="244.70" x2="330.40" y2="244.70" stroke="#231f20" stroke-width="1.0"/>
<line x1="327.20" y1="238.70" x2="330.40" y2="238.70" stroke="#231f20" stroke-width="1.0"/>
<text x="321.23" y="361.30" font-size="6.8" fill="#231f20" stroke="#231f20" stroke-width="0.07" textLength="3.18" lengthAdjust="spacingAndGlyphs">0</text>
<text x="318.06" y="337.28" font-size="6.8" fill="#231f20" stroke="#231f20" stroke-width="0.07" textLength="6.35" lengthAdjust="spacingAndGlyphs">20</text>
<text x="318.06" y="313.26" font-size="6.8" fill="#231f20" stroke="#231f20" stroke-width="0.07" textLength="6.35" lengthAdjust="spacingAndGlyphs">40</text>
<text x="318.06" y="289.24" font-size="6.8" fill="#231f20" stroke="#231f20" stroke-width="0.07" textLength="6.35" lengthAdjust="spacingAndGlyphs">60</text>
<text x="318.06" y="265.22" font-size="6.8" fill="#231f20" stroke="#231f20" stroke-width="0.07" textLength="6.35" lengthAdjust="spacingAndGlyphs">80</text>
<text x="314.89" y="241.20" font-size="6.8" fill="#231f20" stroke="#231f20" stroke-width="0.07" textLength="9.53" lengthAdjust="spacingAndGlyphs">100</text>
<line x1="329.90" y1="358.80" x2="504.50" y2="358.80" stroke="#231f20" stroke-width="1.3"/>
<line x1="330.30" y1="358.80" x2="330.30" y2="361.40" stroke="#231f20" stroke-width="1.0"/>
<text x="328.70" y="370.90" font-size="6.8" fill="#231f20" stroke="#231f20" stroke-width="0.07" textLength="3.18" lengthAdjust="spacingAndGlyphs">0</text>
<line x1="364.45" y1="358.80" x2="364.45" y2="361.40" stroke="#231f20" stroke-width="1.0"/>
<text x="362.78" y="370.90" font-size="6.8" fill="#231f20" stroke="#231f20" stroke-width="0.07" textLength="3.18" lengthAdjust="spacingAndGlyphs">1</text>
<line x1="398.60" y1="358.80" x2="398.60" y2="361.40" stroke="#231f20" stroke-width="1.0"/>
<text x="397.01" y="370.90" font-size="6.8" fill="#231f20" stroke="#231f20" stroke-width="0.07" textLength="3.18" lengthAdjust="spacingAndGlyphs">2</text>
<line x1="432.75" y1="358.80" x2="432.75" y2="361.40" stroke="#231f20" stroke-width="1.0"/>
<text x="431.16" y="370.90" font-size="6.8" fill="#231f20" stroke="#231f20" stroke-width="0.07" textLength="3.18" lengthAdjust="spacingAndGlyphs">3</text>
<line x1="466.90" y1="358.80" x2="466.90" y2="361.40" stroke="#231f20" stroke-width="1.0"/>
<text x="465.34" y="370.90" font-size="6.8" fill="#231f20" stroke="#231f20" stroke-width="0.07" textLength="3.18" lengthAdjust="spacingAndGlyphs">4</text>
<line x1="501.05" y1="358.80" x2="501.05" y2="361.40" stroke="#231f20" stroke-width="1.0"/>
<text x="499.46" y="370.90" font-size="6.8" fill="#231f20" stroke="#231f20" stroke-width="0.07" textLength="3.18" lengthAdjust="spacingAndGlyphs">5</text>
<text x="388.31" y="383.10" font-size="9.0" fill="#231f20" stroke="#231f20" stroke-width="0.18" textLength="58.33" lengthAdjust="spacingAndGlyphs">Years after HSCT</text>
<text x="332.67" y="246.10" font-size="6.3" fill="#78b85a" stroke="#78b85a" stroke-width="0.07" textLength="13.85" lengthAdjust="spacingAndGlyphs">MUD:</text>
<text x="356.48" y="246.10" font-size="6.3" fill="#78b85a" stroke="#78b85a" stroke-width="0.07" textLength="19.59" lengthAdjust="spacingAndGlyphs">N = 117;</text>
<text x="380.86" y="246.10" font-size="6.3" fill="#78b85a" stroke="#78b85a" stroke-width="0.07" textLength="7.37" lengthAdjust="spacingAndGlyphs">E =</text>
<text x="390.20" y="246.10" font-size="6.3" fill="#78b85a" stroke="#78b85a" stroke-width="0.07" textLength="2.75" lengthAdjust="spacingAndGlyphs">4</text>
<text x="332.68" y="255.50" font-size="6.3" fill="#c02a52" stroke="#c02a52" stroke-width="0.07" textLength="17.81" lengthAdjust="spacingAndGlyphs">MMUD:</text>
<text x="356.48" y="255.50" font-size="6.3" fill="#c02a52" stroke="#c02a52" stroke-width="0.07" textLength="8.27" lengthAdjust="spacingAndGlyphs">N =</text>
<text x="368.57" y="255.50" font-size="6.3" fill="#c02a52" stroke="#c02a52" stroke-width="0.07" textLength="7.20" lengthAdjust="spacingAndGlyphs">98;</text>
<text x="380.89" y="255.50" font-size="6.3" fill="#c02a52" stroke="#c02a52" stroke-width="0.07" textLength="12.81" lengthAdjust="spacingAndGlyphs">E = 11</text>
<text x="332.66" y="264.20" font-size="6.3" fill="#5a72a8" stroke="#5a72a8" stroke-width="0.07" textLength="15.94" lengthAdjust="spacingAndGlyphs">Haplo:</text>
<text x="356.48" y="264.20" font-size="6.3" fill="#5a72a8" stroke="#5a72a8" stroke-width="0.07" textLength="8.27" lengthAdjust="spacingAndGlyphs">N =</text>
<text x="368.57" y="264.20" font-size="6.3" fill="#5a72a8" stroke="#5a72a8" stroke-width="0.07" textLength="7.20" lengthAdjust="spacingAndGlyphs">88;</text>
<text x="380.86" y="264.20" font-size="6.3" fill="#5a72a8" stroke="#5a72a8" stroke-width="0.07" textLength="7.37" lengthAdjust="spacingAndGlyphs">E =</text>
<text x="390.27" y="264.20" font-size="6.3" fill="#5a72a8" stroke="#5a72a8" stroke-width="0.07" textLength="2.43" lengthAdjust="spacingAndGlyphs">1</text>
<text x="463.53" y="275.00" font-size="5.6" fill="#231f20" stroke="#231f20" stroke-width="0.07" textLength="35.42" lengthAdjust="spacingAndGlyphs">Overall P = .005</text>
<text x="387.87" y="283.25" font-size="5.6" fill="#231f20" stroke="#231f20" stroke-width="0.07" textLength="101.60" lengthAdjust="spacingAndGlyphs">MMUD vs. MUD: HR 3.38 (1.08-10.57); P &lt; .001</text>
<text x="393.37" y="292.00" font-size="5.6" fill="#231f20" stroke="#231f20" stroke-width="0.07" textLength="97.34" lengthAdjust="spacingAndGlyphs">Haplo vs. MUD: HR 0.33 (0.04-2.94); P = .316</text>
<path d="M339.5 358.8 V356.9 H341 V355.8 H342.7 V355.2 H348.5 V354.4 H501.3" fill="none" stroke="#7ab55c" stroke-width="1.5" stroke-linejoin="miter" stroke-linecap="butt"/>
<path d="M339.8 358.8 V358.1 H347.3 V357.4 H501.3" fill="none" stroke="#4a639d" stroke-width="1.5" stroke-linejoin="miter" stroke-linecap="butt"/>
<path d="M330.4 358.8 H339.2 V351.2 H339.8 V350.0 H341.5 V348.3 H342.7 V347.6 H382.3 V346.4 H432.5 V344.7 H501.3" fill="none" stroke="#b8234b" stroke-width="1.6" stroke-linejoin="miter" stroke-linecap="butt"/>
<text x="444.00" y="323.95" font-size="5.5" fill="#c02a52" stroke="#c02a52" stroke-width="0.07" textLength="46.32" lengthAdjust="spacingAndGlyphs">MMUD = 12% (7-21)</text>
<text x="455.60" y="332.75" font-size="5.5" fill="#78b85a" stroke="#78b85a" stroke-width="0.07" textLength="35.95" lengthAdjust="spacingAndGlyphs">MUD = 3% (1-9)</text>
<text x="454.00" y="341.60" font-size="5.5" fill="#5a72a8" stroke="#5a72a8" stroke-width="0.07" textLength="38.22" lengthAdjust="spacingAndGlyphs">Haplo = 1% (0-8)</text>
<text x="275.60" y="381.40" font-size="6.3" fill="#231f20" stroke="#231f20" stroke-width="0.07" textLength="73.07" lengthAdjust="spacingAndGlyphs">Number of patients at risk:</text>
<text x="295.83" y="388.30" font-size="6.3" fill="#231f20" stroke="#231f20" stroke-width="0.07" textLength="51.96" lengthAdjust="spacingAndGlyphs">(number censored)</text>
<text x="291.80" y="400.40" font-size="6.3" fill="#231f20" stroke="#231f20" stroke-width="0.07" textLength="14.30" lengthAdjust="spacingAndGlyphs">MUD</text>
<text x="293.21" y="412.10" font-size="6.3" fill="#231f20" stroke="#231f20" stroke-width="0.07" textLength="18.97" lengthAdjust="spacingAndGlyphs">MMUD</text>
<text x="291.79" y="422.50" font-size="6.3" fill="#231f20" stroke="#231f20" stroke-width="0.07" textLength="16.58" lengthAdjust="spacingAndGlyphs">Haplo</text>
<text x="320.74" y="400.30" font-size="6.3" fill="#231f20" stroke="#231f20" stroke-width="0.07" textLength="18.85" lengthAdjust="spacingAndGlyphs">117 (0)</text>
<text x="354.93" y="400.30" font-size="6.3" fill="#231f20" stroke="#231f20" stroke-width="0.07" textLength="18.95" lengthAdjust="spacingAndGlyphs">90 (23)</text>
<text x="389.10" y="400.30" font-size="6.3" fill="#231f20" stroke="#231f20" stroke-width="0.07" textLength="18.98" lengthAdjust="spacingAndGlyphs">74 (39)</text>
<text x="423.36" y="400.30" font-size="6.3" fill="#231f20" stroke="#231f20" stroke-width="0.07" textLength="18.92" lengthAdjust="spacingAndGlyphs">52 (61)</text>
<text x="457.87" y="400.30" font-size="6.3" fill="#231f20" stroke="#231f20" stroke-width="0.07" textLength="18.61" lengthAdjust="spacingAndGlyphs">34 (79)</text>
<text x="489.95" y="400.30" font-size="6.3" fill="#231f20" stroke="#231f20" stroke-width="0.07" textLength="22.34" lengthAdjust="spacingAndGlyphs">13 (100)</text>
<text x="324.13" y="411.70" font-size="6.3" fill="#231f20" stroke="#231f20" stroke-width="0.07" textLength="15.43" lengthAdjust="spacingAndGlyphs">98 (0)</text>
<text x="354.90" y="411.70" font-size="6.3" fill="#231f20" stroke="#231f20" stroke-width="0.07" textLength="18.98" lengthAdjust="spacingAndGlyphs">72 (17)</text>
<text x="389.10" y="411.70" font-size="6.3" fill="#231f20" stroke="#231f20" stroke-width="0.07" textLength="18.98" lengthAdjust="spacingAndGlyphs">62 (26)</text>
<text x="423.48" y="411.70" font-size="6.3" fill="#231f20" stroke="#231f20" stroke-width="0.07" textLength="18.80" lengthAdjust="spacingAndGlyphs">41 (46)</text>
<text x="457.81" y="411.70" font-size="6.3" fill="#231f20" stroke="#231f20" stroke-width="0.07" textLength="18.67" lengthAdjust="spacingAndGlyphs">24 (63)</text>
<text x="493.63" y="411.70" font-size="6.3" fill="#231f20" stroke="#231f20" stroke-width="0.07" textLength="15.43" lengthAdjust="spacingAndGlyphs">9 (78)</text>
<text x="324.13" y="422.00" font-size="6.3" fill="#231f20" stroke="#231f20" stroke-width="0.07" textLength="15.43" lengthAdjust="spacingAndGlyphs">88 (0)</text>
<text x="354.90" y="422.00" font-size="6.3" fill="#231f20" stroke="#231f20" stroke-width="0.07" textLength="18.98" lengthAdjust="spacingAndGlyphs">68 (19)</text>
<text x="389.10" y="422.00" font-size="6.3" fill="#231f20" stroke="#231f20" stroke-width="0.07" textLength="18.98" lengthAdjust="spacingAndGlyphs">60 (27)</text>
<text x="423.36" y="422.00" font-size="6.3" fill="#231f20" stroke="#231f20" stroke-width="0.07" textLength="18.92" lengthAdjust="spacingAndGlyphs">37 (50)</text>
<text x="457.81" y="422.00" font-size="6.3" fill="#231f20" stroke="#231f20" stroke-width="0.07" textLength="18.67" lengthAdjust="spacingAndGlyphs">24 (63)</text>
<text x="493.60" y="422.00" font-size="6.3" fill="#231f20" stroke="#231f20" stroke-width="0.07" textLength="15.47" lengthAdjust="spacingAndGlyphs">7 (80)</text>
</svg>
</body></html>
